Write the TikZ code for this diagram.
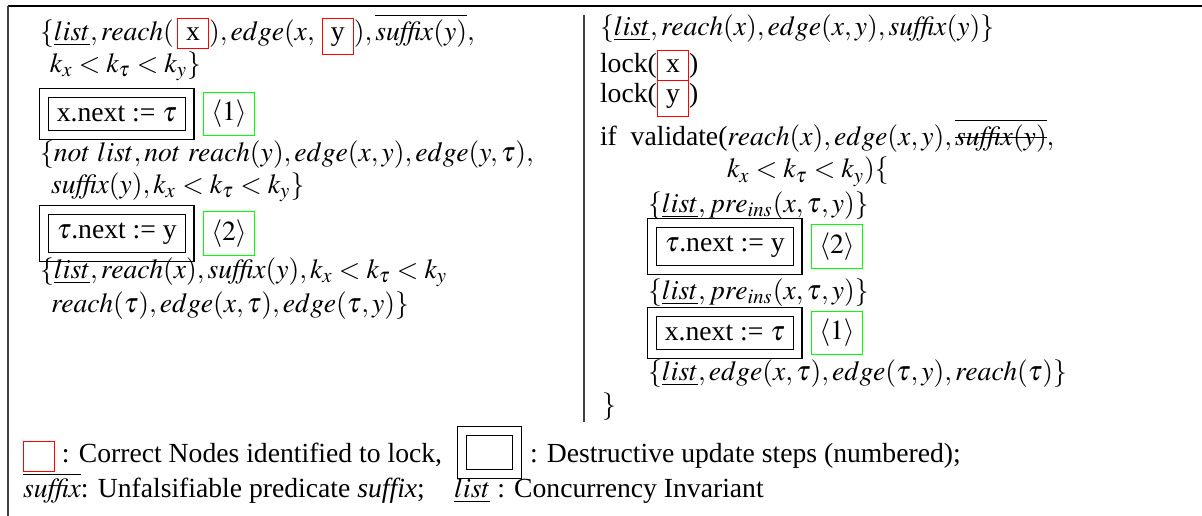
\documentclass[tikz,border=0pt,12pt]{standalone}
\usepackage{mathptmx}
\usepackage{fontspec}
\setmainfont{Liberation Serif}
\usetikzlibrary{positioning}

\setlength{\fboxsep}{3.5pt}
\setlength{\fboxrule}{0.5pt}
\tikzstyle{textline} = [anchor = base west, inner sep = 0, outer sep = 0]
% outer frame of a destructive update, the inner one is an \fbox
\tikzstyle{update} = [rectangle, draw = black, line width = 0.5pt,
  inner sep = 3.5pt, anchor = west]
\tikzstyle{order} = [rectangle, draw = green, line width = 0.5pt,
  inner sep = 3.5pt, minimum width = 22pt, minimum height = 18.7pt]
\tikzstyle{lockmark} = [rectangle, draw = red, line width = 0.5pt,
  minimum width = 13.5pt, minimum height = 13pt, inner sep = 0]

% red box round a node that gets locked
\newcommand{\lk}[1]{\fcolorbox{red}{white}{#1}}
\newcommand{\inv}{\underline{list}}
\newcommand{\sfx}{\mathit{suffix}}
% struck out math, text mode
\newcommand{\strk}[1]{\sbox0{$#1$}\rlap{\rule[0.25em]{\wd0}{0.4pt}}\usebox0}

\begin{document}
\begin{tikzpicture}[x = 0.434pt, y = -0.434pt]
    \useasboundingbox (0, 0) rectangle (1202, 516);
    % frame
    \coordinate (frame-tr) at (1202, 6);
    \coordinate (frame-tl) at (8, 6);
    \coordinate (frame-bl) at (8, 516);
    \draw [line width = 0.6pt] (frame-tr) -- (frame-tl);
    \draw [line width = 0.5pt, black!75] (frame-tl) -- (frame-bl);
    \coordinate (split-top) at (584, 15);
    \coordinate (split-bot) at (584, 422);
    \draw [line width = 0.5pt, black!75] (split-top) -- (split-bot);

    % left column
    \node [textline] (left-1) at (40, 40)
      {$\{\inv, reach(\,$\lk{x}$), edge(x,$ \lk{y}$), \overline{\sfx(y)},$};
    \node [textline] (left-2) at (50, 72) {$k_x < k_\tau < k_y\}$};
    \node [update] (step-l1) at (39, 114) {\fbox{x.next := $\tau$}};
    \node [order, right = 3.5pt of step-l1] (order-l1) {$\langle 1\rangle$};
    \node [textline] (left-3) at (40, 161)
      {$\{not\ list, not\ reach(y), edge(x,y), edge(y,\tau),$};
    \node [textline] (left-4) at (51, 193)
      {$\sfx(y), k_x < k_\tau < k_y\}$};
    \node [update] (step-l2) at (39, 233.5) {\fbox{$\tau$.next := y}};
    \node [order, right = 3.5pt of step-l2] (order-l2) {$\langle 2\rangle$};
    \node [textline] (left-5) at (40, 278)
      {$\{\inv, reach(x), \sfx(y), k_x < k_\tau < k_y$};
    \node [textline] (left-6) at (51, 312)
      {$reach(\tau), edge(x,\tau), edge(\tau,y)\}$};

    % right column
    \node [textline] (right-1) at (600, 35)
      {$\{\inv, reach(x), edge(x,y), \sfx(y)\}$};
    \node [textline] (right-2) at (600, 72) {lock(\lk{x})};
    \node [textline] (right-3) at (600, 102) {lock(\lk{y})};
    \node [textline] (right-4) at (600, 145)
      {if\ \ validate($reach(x), edge(x,y),
        \overline{\mbox{\strk{\sfx(y)}}},$};
    \node [textline] (right-5) at (727, 178) {$k_x < k_\tau < k_y)\{$};
    \node [textline] (right-6) at (648, 212)
      {$\{\inv, pre_{ins}(x, \tau, y)\}$};
    \node [update] (step-r2) at (647, 246.5) {\fbox{$\tau$.next := y}};
    \node [order, right = 3.5pt of step-r2] (order-r2) {$\langle 2\rangle$};
    \node [textline] (right-7) at (648, 299)
      {$\{\inv, pre_{ins}(x, \tau, y)\}$};
    \node [update] (step-r1) at (647, 333) {\fbox{x.next := $\tau$}};
    \node [order, right = 3.5pt of step-r1] (order-r1) {$\langle 1\rangle$};
    \node [textline] (right-8) at (648, 380)
      {$\{\inv, edge(x,\tau), edge(\tau,y), reach(\tau)\}$};
    \node [textline] (right-9) at (602, 413) {$\}$};

    % legend
    \node [lockmark, anchor = north west] (key-lock) at (23, 441) {};
    \node [textline] (key-lock-text) at (62, 462)
      {: Correct Nodes identified to lock,};
    \node [update] (key-step) at (457, 452.5)
      {\fbox{\rule{0pt}{7.4pt}\hspace{12.6pt}}};
    \node [textline] (key-step-text) at (530, 462)
      {: Destructive update steps (numbered);};
    \node [textline] (key-suffix) at (23, 497)
      {$\overline{\sfx}$: Unfalsifiable predicate \textit{suffix};};
    \node [textline] (key-list) at (454, 497)
      {$\inv$ : Concurrency Invariant};
  \end{tikzpicture}
\end{document}
